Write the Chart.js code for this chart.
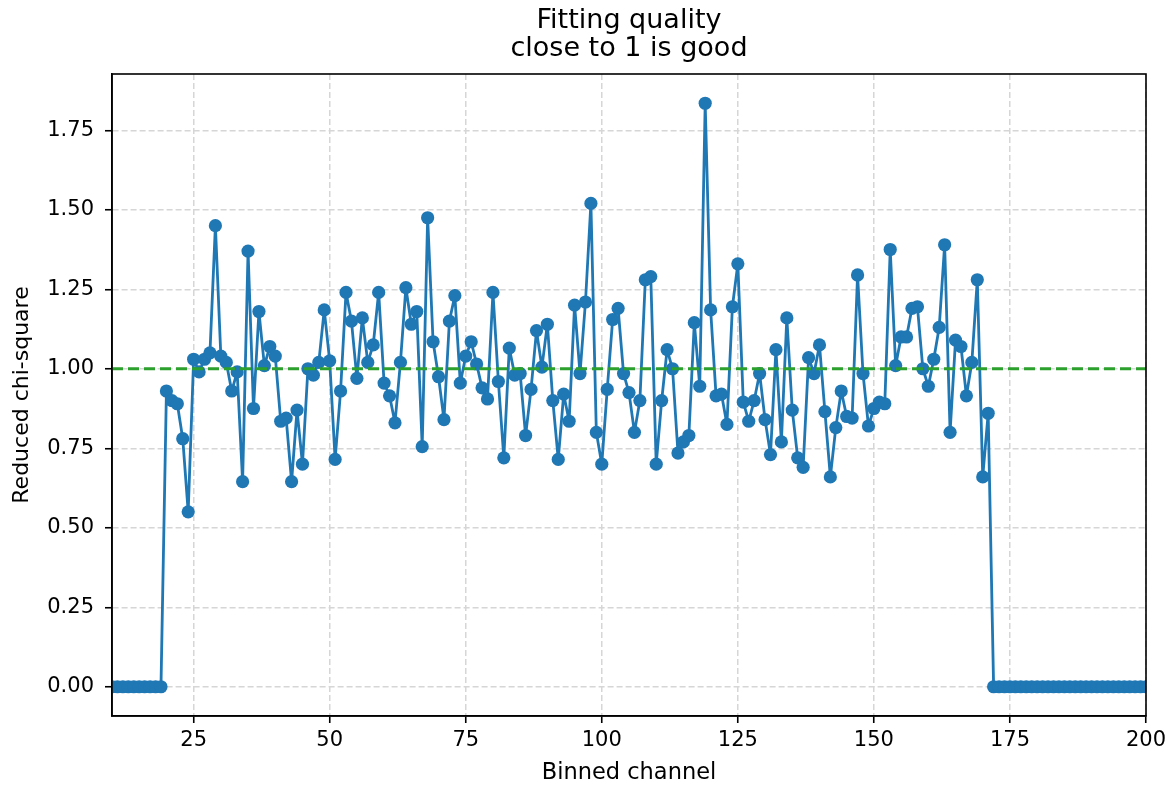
<!DOCTYPE html>
<html>
<head>
<meta charset="utf-8">
<script src="https://cdn.jsdelivr.net/npm/chart.js@4.4.1/dist/chart.umd.min.js"></script>
<style>
  html, body { margin: 0; padding: 0; background: #fff; }
  #wrap { width: 1174px; height: 787px; }
</style>
</head>
<body>
<div id="wrap"><canvas id="chiChart"></canvas></div>
<script>
// Reduced chi-square per binned channel (channel = firstChannel + index)
const firstChannel = 10;
const chiSquare = [
    0, 0, 0, 0, 0, 0, 0, 0, 0, 0,
    0.93, 0.90, 0.89, 0.78, 0.55, 1.03, 0.99, 1.03, 1.05, 1.45,
    1.04, 1.02, 0.93, 0.99, 0.645, 1.37, 0.875, 1.18, 1.01, 1.07,
    1.04, 0.835, 0.845, 0.645, 0.87, 0.70, 1.00, 0.98, 1.02, 1.185,
    1.025, 0.715, 0.93, 1.24, 1.15, 0.97, 1.16, 1.02, 1.075, 1.24,
    0.955, 0.915, 0.83, 1.02, 1.255, 1.14, 1.18, 0.755, 1.475, 1.085,
    0.975, 0.84, 1.15, 1.23, 0.955, 1.04, 1.085, 1.015, 0.94, 0.905,
    1.24, 0.96, 0.72, 1.065, 0.98, 0.985, 0.79, 0.935, 1.12, 1.005,
    1.14, 0.90, 0.715, 0.92, 0.835, 1.20, 0.985, 1.21, 1.52, 0.80,
    0.70, 0.935, 1.155, 1.19, 0.985, 0.925, 0.80, 0.90, 1.28, 1.29,
    0.70, 0.90, 1.06, 1.00, 0.735, 0.77, 0.79, 1.145, 0.945, 1.835,
    1.185, 0.915, 0.92, 0.825, 1.195, 1.33, 0.895, 0.835, 0.90, 0.985,
    0.84, 0.73, 1.06, 0.77, 1.16, 0.87, 0.72, 0.69, 1.035, 0.985,
    1.075, 0.865, 0.66, 0.815, 0.93, 0.85, 0.845, 1.295, 0.985, 0.82,
    0.875, 0.895, 0.89, 1.375, 1.01, 1.10, 1.10, 1.19, 1.195, 1.00,
    0.945, 1.03, 1.13, 1.39, 0.80, 1.09, 1.07, 0.915, 1.02, 1.28,
    0.66, 0.86,
    0, 0, 0, 0, 0, 0, 0, 0, 0, 0,
    0, 0, 0, 0, 0, 0, 0, 0, 0, 0,
    0, 0, 0, 0, 0, 0, 0, 0, 0
];
const targetValue = 1.0;

// Axis ranges and tick labels
const xRange = [10, 200];
const yRange = [-0.092, 1.927];
const xTicks = [25, 50, 75, 100, 125, 150, 175, 200];
const yTicks = [0, 0.25, 0.5, 0.75, 1.0, 1.25, 1.5, 1.75];

const chiPoints = chiSquare.map((v, i) => ({ x: firstChannel + i, y: v }));
const targetPoints = xRange.map(x => ({ x: x, y: targetValue }));

Chart.defaults.font.family = '"DejaVu Sans", sans-serif';
Chart.defaults.color = '#000';

// matplotlib style box around the axes
const frame = {
    id: 'frame',
    afterDraw(chart) {
        const a = chart.chartArea;
        const ctx = chart.ctx;
        ctx.save();
        ctx.strokeStyle = '#000';
        ctx.lineWidth = 1.6;
        ctx.strokeRect(a.left, a.top, a.right - a.left, a.bottom - a.top);
        ctx.restore();
    }
};

const gridStyle = {
    color: '#d6d6d6',
    lineWidth: 1.5,
    tickColor: '#000',
    tickLength: 7,
    tickWidth: 1.6
};

new Chart(document.getElementById('chiChart'), {
    type: 'line',
    data: {
        datasets: [{
            data: targetPoints,
            borderColor: '#2ca02c',
            borderWidth: 3,
            borderDash: [11, 5],
            pointRadius: 0,
            fill: false,
            order: 0,
            clip: 0
        }, {
            data: chiPoints,
            borderColor: '#1f77b4',
            backgroundColor: '#1f77b4',
            borderWidth: 2.8,
            borderJoinStyle: 'round',
            pointRadius: 6.6,
            pointBorderWidth: 0,
            pointBackgroundColor: '#1f77b4',
            tension: 0,
            fill: false,
            order: 1,
            clip: 0
        }]
    },
    options: {
        responsive: true,
        maintainAspectRatio: false,
        animation: false,
        layout: { padding: { left: 0, right: 28, top: 0, bottom: 0 } },
        plugins: {
            legend: { display: false },
            tooltip: { enabled: false },
            title: {
                display: true,
                text: ['Fitting quality', 'close to 1 is good'],
                fullSize: false,
                font: { size: 27, weight: 'normal', lineHeight: 1.037 },
                padding: { top: 6.7, bottom: 11.3 }
            }
        },
        scales: {
            x: {
                type: 'linear',
                min: xRange[0],
                max: xRange[1],
                afterBuildTicks: s => { s.ticks = xTicks.map(v => ({ value: v })); },
                afterFit: s => { s.height = 71; },
                grid: gridStyle,
                border: { display: true, color: '#000', width: 1.6, dash: [6, 3] },
                ticks: {
                    font: { size: 21 },
                    padding: 5,
                    maxRotation: 0,
                    callback: v => String(v)
                },
                title: {
                    display: true,
                    text: 'Binned channel',
                    font: { size: 22.5 },
                    padding: { top: 0, bottom: 0 }
                }
            },
            y: {
                type: 'linear',
                min: yRange[0],
                max: yRange[1],
                afterBuildTicks: s => { s.ticks = yTicks.map(v => ({ value: v })); },
                afterFit: s => { s.width = 112; },
                grid: gridStyle,
                border: { display: true, color: '#000', width: 1.6, dash: [6, 3] },
                ticks: {
                    font: { size: 21 },
                    padding: 11,
                    callback: v => v.toFixed(2)
                },
                title: {
                    display: true,
                    text: 'Reduced chi-square',
                    font: { size: 22 },
                    padding: { top: 9, bottom: 0 }
                }
            }
        }
    },
    plugins: [frame]
});
</script>
</body>
</html>
